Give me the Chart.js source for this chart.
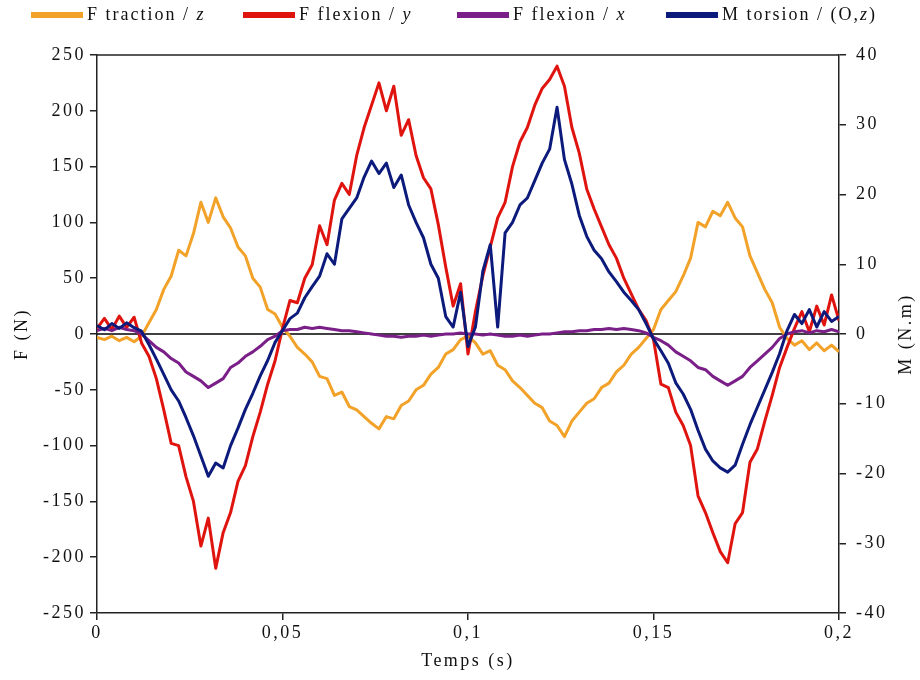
<!DOCTYPE html>
<html>
<head>
<meta charset="utf-8">
<script src="https://cdn.jsdelivr.net/npm/chart.js@4.4.1/dist/chart.umd.min.js"></script>
<style>
  html, body { margin: 0; padding: 0; background: #fff; }
  canvas { display: block; }
</style>
</head>
<body>
<canvas id="efforts" width="920" height="680"></canvas>
<script>
// temps (s), pas de 2 ms
const temps = [
  0, 0.002, 0.004, 0.006, 0.008, 0.01, 0.012, 0.014, 0.016, 0.018,
  0.02, 0.022, 0.024, 0.026, 0.028, 0.03, 0.032, 0.034, 0.036, 0.038,
  0.04, 0.042, 0.044, 0.046, 0.048, 0.05, 0.052, 0.054, 0.056, 0.058,
  0.06, 0.062, 0.064, 0.066, 0.068, 0.07, 0.072, 0.074, 0.076, 0.078,
  0.08, 0.082, 0.084, 0.086, 0.088, 0.09, 0.092, 0.094, 0.096, 0.098,
  0.1, 0.102, 0.104, 0.106, 0.108, 0.11, 0.112, 0.114, 0.116, 0.118,
  0.12, 0.122, 0.124, 0.126, 0.128, 0.13, 0.132, 0.134, 0.136, 0.138,
  0.14, 0.142, 0.144, 0.146, 0.148, 0.15, 0.152, 0.154, 0.156, 0.158,
  0.16, 0.162, 0.164, 0.166, 0.168, 0.17, 0.172, 0.174, 0.176, 0.178,
  0.18, 0.182, 0.184, 0.186, 0.188, 0.19, 0.192, 0.194, 0.196, 0.198,
  0.2
];

// F traction / z (N)
const tractionZ = [
  -3, -5, -2, -6, -3, -7, -2, 10, 22, 40,
  52, 75, 70, 90, 118, 100, 122, 105, 95, 78,
  70, 50, 42, 22, 18, 6, -2, -12, -18, -25,
  -38, -40, -55, -52, -65, -68, -74, -80, -85, -74,
  -76, -64, -60, -50, -46, -36, -30, -18, -14, -5,
  -2, -8, -18, -15, -28, -32, -42, -48, -55, -62,
  -66, -78, -82, -92, -78, -70, -62, -58, -48, -44,
  -34, -28, -18, -12, -4, 4, 22, 30, 38, 52,
  68, 100, 96, 110, 106, 118, 104, 96, 70, 55,
  40, 28, 6, -4, -10, -6, -14, -8, -15, -10,
  -16
];

// F flexion / y (N)
const flexionY = [
  5, 14, 4, 16, 6, 15, -8, -20, -40, -68,
  -98, -100, -128, -150, -190, -165, -210, -178, -160, -132,
  -118, -92, -70, -45, -24, 5, 30, 28, 50, 62,
  97, 80, 120, 135, 125, 160, 185, 205, 225, 200,
  222, 178, 192, 160, 140, 130, 98, 60, 25, 45,
  -18, 20, 52, 78, 104, 118, 150, 172, 185, 205,
  220, 228, 240, 222, 185, 162, 130, 112, 96, 80,
  68, 50, 36, 22, 12, -5, -45, -48, -70, -82,
  -100, -145, -160, -178, -195, -205, -170, -160, -115, -103,
  -78, -55, -30, -12, 5, 20, 2, 25, 8, 35,
  12
];

// F flexion / x (N)
const flexionX = [
  3, 5, 3, 6, 4, 3, 0, -6, -12, -16,
  -22, -26, -34, -38, -42, -48, -44, -40, -30, -26,
  -20, -16, -11, -5, -2, 3, 4, 4, 6, 5,
  6, 5, 4, 3, 3, 2, 1, 0, -1, -2,
  -2, -3, -2, -2, -1, -2, -1, 0, 0, 1,
  0, 0, -1, 0, -1, -2, -2, -1, -2, -1,
  0, 0, 1, 2, 2, 3, 3, 4, 4, 5,
  4, 5, 4, 3, 1, -3, -6, -10, -16, -20,
  -24, -30, -32, -38, -42, -46, -42, -38, -30, -24,
  -18, -12, -4, 0, 2, 3, 1, 3, 2, 4,
  2
];

// M torsion / (O,z) (N.m)
const torsionOz = [
  1.2, 0.6, 1.5, 0.8, 1.6, 0.9, 0.4, -1.5, -3.6, -5.8,
  -8, -9.6, -12, -14.6, -17.5, -20.4, -18.5, -19.2, -16, -13.5,
  -10.8, -8.5, -6, -3.8, -1.2, 0.5, 2.2, 3, 5.2, 6.8,
  8.3, 11.5, 10, 16.5, 18, 19.5, 22.5, 24.8, 23, 24.5,
  21, 22.8, 18.5, 16, 13.8, 10, 8, 2.5, 1, 6,
  -1.8, 1, 9, 12.8, 1, 14.5, 16, 18.5, 19.5, 22,
  24.5, 26.5, 32.5, 25, 21.5, 17, 14, 12, 10.8, 8.9,
  7.5, 6, 4.8, 3.5, 1.5, -0.7, -2.4, -4.2, -7, -8.6,
  -10.8, -13.8, -16.5, -18.2, -19.2, -19.8, -18.8, -15.8, -13, -10.5,
  -8, -5.5, -2.8, 0.5, 2.8, 1.5, 3.5, 1, 3.2, 1.8,
  2.5
];

const legendes = [
  ['F traction / ', 'z', ''],
  ['F flexion / ', 'y', ''],
  ['F flexion / ', 'x', ''],
  ['M torsion / (O,', 'z', ')']
];
const couleurs = ['#f2a228', '#e0140f', '#7a1f88', '#0c1a7c'];

const serif = "'Liberation Serif', 'Times New Roman', serif";
const encre = '#222';

function points(ys) {
  return ys.map((y, i) => ({ x: temps[i], y: y }));
}

// dessins en plus : ligne du zero, cadre haut, legende, titres d'axes
const decor = {
  id: 'decor',
  beforeLayout(chart) { chart.ctx.letterSpacing = '2.5px'; },
  beforeDraw(chart) { chart.ctx.letterSpacing = '2.5px'; },
  beforeDatasetsDraw(chart) {
    const { ctx, chartArea: a, scales } = chart;
    const y0 = scales.y.getPixelForValue(0);
    ctx.save();
    ctx.strokeStyle = '#000';
    ctx.lineWidth = 1.5;
    ctx.beginPath();
    ctx.moveTo(a.left, y0);
    ctx.lineTo(a.right, y0);
    ctx.stroke();
    ctx.restore();
  },
  afterDraw(chart) {
    const { ctx, chartArea: a } = chart;
    ctx.save();
    ctx.strokeStyle = encre;
    ctx.lineWidth = 1.5;
    ctx.beginPath();
    ctx.moveTo(a.left, a.top);
    ctx.lineTo(a.right, a.top);
    ctx.stroke();

    // legende
    const rectX = [31, 243, 457, 666];
    const texteX = [87, 299, 513, 722];
    const yl = 15;
    ctx.letterSpacing = '2px';
    ctx.textBaseline = 'middle';
    legendes.forEach((parts, i) => {
      ctx.fillStyle = couleurs[i];
      ctx.fillRect(rectX[i], yl - 3, 52, 6);
      ctx.fillStyle = '#111';
      let x = texteX[i];
      parts.forEach((p, k) => {
        if (!p) return;
        ctx.font = (k === 1 ? 'italic ' : '') + '18px ' + serif;
        ctx.fillText(p, x, yl);
        x += ctx.measureText(p).width;
      });
    });

    // titres d'axes
    ctx.letterSpacing = '2.5px';
    ctx.font = '18px ' + serif;
    ctx.fillStyle = '#111';
    ctx.textAlign = 'center';
    ctx.fillText('Temps (s)', (a.left + a.right) / 2, 661);
    ctx.save();
    ctx.translate(22, (a.top + a.bottom) / 2);
    ctx.rotate(-Math.PI / 2);
    ctx.fillText('F (N)', 0, 0);
    ctx.restore();
    ctx.save();
    ctx.translate(906, (a.top + a.bottom) / 2);
    ctx.rotate(-Math.PI / 2);
    ctx.fillText('M (N.m)', 0, 0);
    ctx.restore();
    ctx.restore();
  }
};

const axeCommun = {
  border: { display: true, color: encre, width: 1.5 },
  grid: { drawOnChartArea: false, drawTicks: true, tickLength: 7, color: encre, lineWidth: 1.5 }
};

new Chart(document.getElementById('efforts'), {
  type: 'line',
  data: {
    datasets: [
      { label: 'F traction / z', data: points(tractionZ), borderColor: couleurs[0], yAxisID: 'y', order: 3 },
      { label: 'F flexion / y', data: points(flexionY), borderColor: couleurs[1], yAxisID: 'y', order: 2 },
      { label: 'F flexion / x', data: points(flexionX), borderColor: couleurs[2], yAxisID: 'y', order: 1 },
      { label: 'M torsion / (O,z)', data: points(torsionOz), borderColor: couleurs[3], yAxisID: 'y1', order: 0 }
    ]
  },
  options: {
    responsive: false,
    animation: false,
    layout: { padding: { top: 55, left: 0, right: 0, bottom: 0 } },
    elements: {
      line: { borderWidth: 3, tension: 0, fill: false, borderJoinStyle: 'round' },
      point: { radius: 0 }
    },
    plugins: {
      legend: { display: false },
      tooltip: { enabled: false }
    },
    scales: {
      x: {
        type: 'linear',
        min: 0,
        max: 0.2,
        ...axeCommun,
        ticks: {
          stepSize: 0.05,
          padding: 2,
          maxRotation: 0,
          autoSkip: false,
          color: '#111',
          font: { family: serif, size: 18 },
          callback: v => String(Math.round(v * 1000) / 1000).replace('.', ',')
        },
        afterFit: s => { s.height = 67; }
      },
      y: {
        position: 'left',
        min: -250,
        max: 250,
        ...axeCommun,
        ticks: {
          stepSize: 50,
          padding: 4,
          color: '#111',
          font: { family: serif, size: 18 },
          callback: v => String(v)
        },
        afterFit: s => { s.width = 97; }
      },
      y1: {
        position: 'right',
        min: -40,
        max: 40,
        ...axeCommun,
        ticks: {
          stepSize: 10,
          padding: 10,
          color: '#111',
          font: { family: serif, size: 18 },
          callback: v => String(v)
        },
        afterFit: s => { s.width = 81; }
      }
    }
  },
  plugins: [decor]
});
</script>
</body>
</html>
